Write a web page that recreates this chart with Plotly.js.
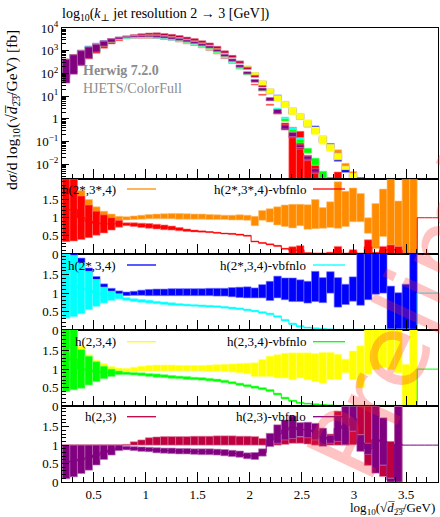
<!DOCTYPE html>
<html><head><meta charset="utf-8">
<script src="https://cdn.plot.ly/plotly-3.0.1.min.js"></script>
<style>html,body{margin:0;padding:0;background:#fff;}#chart{width:440px;height:517px;}</style>
</head><body><div id="chart"></div>
<script>
// ---------- binning of log10(sqrt(d23)/GeV) ----------
const binStart = 0.2;
const binWidth = 0.0725;
const nBins = 50;

// ---------- main panel nominal curves, log10(dsigma / fb) ----------
const refUpperLog = [2.30,2.50,2.74,2.98,3.17,3.35,3.48,3.57,3.63,3.67,
  3.69,3.70,3.70,3.67,3.63,3.58,3.51,3.44,3.35,3.25,
  3.10,2.91,2.72,2.48,2.25,1.97,1.58,1.20,0.89,0.62,
  0.33,0.09,-0.20,-0.51,-0.91,-1.28,-1.66,-2.19,-2.58,-2.9,
  -3.2,-3.5,-3.8,-4.1,-4.4,-4.7,-5.0];
const refH23Log = [2.62,2.82,3.0,3.16,3.28,3.42,3.52,3.59,3.64,3.67,
  3.69,3.70,3.70,3.67,3.63,3.58,3.51,3.44,3.35,3.25,
  3.10,2.90,2.70,2.45,2.18,1.83,1.40,0.82,0.22,-0.5,
  -0.85,-1.35,-1.85,-2.4,-2.85,-3.2,-3.5,-3.8,-4.1,-4.4,
  -4.7,-5.0,-5.3,-5.6,-5.9];

// ---------- ratio panel 1 ----------
const orangeLo = [0.5,0.55,0.6,0.66,0.72,0.8,0.86,0.93,0.94,0.95,
  0.96,0.97,0.97,0.97,0.97,0.96,0.96,0.96,0.96,0.95,
  0.95,0.95,0.94,0.94,0.93,0.78,0.93,0.88,0.8,0.76,
  0.72,0.78,0.68,0.7,0.71,0.73,0.71,0.76,0.89,0.89,
  0.57,0.15,0.48,0.25,0.21,0,0,null,null,null];
const orangeHi = [2.1,2.1,1.75,1.5,1.3,1.18,1.1,1.04,1.03,1.05,
  1.07,1.09,1.1,1.11,1.12,1.12,1.11,1.1,1.1,1.09,
  1.08,1.07,1.07,1.08,1.07,1.04,1.2,1.25,1.3,1.35,
  1.37,1.37,1.36,1.5,1.28,1.44,1.99,1.73,1.82,1.67,
  1.0,1.39,1.79,2.1,1.46,2.1,2.1,null,null,null];
const redLo = [0.34,0.36,0.40,0.45,0.52,0.58,0.66,0.74,0.78,0.76,
  0.73,0.71,0.69,0.67,0.66,0.64,0.62,0.61,0.60,0.59,
  0.57,0.55,0.54,0.52,0.49,0.33,0.29,0.25,0.21,0.13,
  0,0,0,0,0,0,0,0,0,0,
  0,0,0,0,0,0,0,1,1,1];
const redHi = [2.1,2.1,1.6,1.35,1.18,1.08,1.0,0.93,0.86,0.86,
  0.85,0.84,0.82,0.80,0.77,0.73,0.69,0.66,0.64,0.62,
  0.60,0.58,0.57,0.55,0.52,0.36,0.32,0.28,0.24,0.16,
  0.2,0.23,0.04,0.03,0.03,0.05,0.21,0.03,0.12,0.03,
  0.39,0.05,0.21,0.25,0.21,0.03,0.03,1,1,1];

// ---------- ratio panel 2 ----------
const blueLo = [0.5,0.55,0.6,0.66,0.72,0.8,0.86,0.92,0.93,0.94,
  0.94,0.93,0.93,0.93,0.93,0.93,0.93,0.93,0.93,0.93,
  0.92,0.92,0.9,0.88,0.87,0.87,0.87,0.8,0.87,0.82,
  0.77,0.77,0.73,0.77,0.74,1.0,0.62,0.69,0.78,0.67,
  0.82,0.97,1.0,0.03,0.03,0.03,0,null,null,null];
const blueHi = [2.1,2.1,1.95,1.68,1.45,1.25,1.13,1.06,1.03,1.05,
  1.08,1.1,1.11,1.11,1.12,1.12,1.12,1.12,1.12,1.13,
  1.13,1.13,1.15,1.16,1.17,1.14,1.23,1.32,1.46,1.41,
  1.41,1.36,1.32,1.59,1.42,1.58,1.42,1.24,1.44,2.1,
  2.1,2.1,2.1,1.19,1.01,1.24,2.1,null,null,null];
const cyanLo = [0.32,0.36,0.44,0.55,0.64,0.73,0.8,0.84,0.8,0.77,
  0.75,0.73,0.71,0.69,0.67,0.66,0.65,0.64,0.63,0.62,
  0.61,0.59,0.57,0.55,0.52,0.49,0.45,0.41,0.34,0.24,
  0.14,0.08,0.05,0.03,0.02,0.01,0,0,0,0,
  0,0,0,0,0,0,0,1,1,1];
const cyanHi = [2.1,2.02,1.82,1.59,1.37,1.16,1.05,0.98,0.88,0.85,
  0.83,0.81,0.78,0.76,0.74,0.72,0.7,0.69,0.68,0.67,
  0.66,0.64,0.62,0.6,0.57,0.54,0.5,0.46,0.39,0.29,
  0.19,0.12,0.08,0.06,0.04,0.03,0.02,0.02,0.02,0.02,
  0.02,0.02,0.02,0.02,0.02,0.02,0.02,1,1,1];

// ---------- ratio panel 3 ----------
const yellowLo = [0.5,0.55,0.6,0.66,0.72,0.8,0.86,0.92,0.93,0.94,
  0.95,0.95,0.95,0.95,0.95,0.95,0.95,0.95,0.95,0.94,
  0.94,0.93,0.92,0.9,0.87,0.8,0.8,0.8,0.76,0.76,
  0.71,0.76,0.71,0.66,0.62,0.72,0.72,0.9,0.72,0.49,
  0.86,0.99,1.04,0.99,0.9,0,0,null,null,null];
const yellowHi = [2.1,2.1,1.62,1.39,1.24,1.15,1.07,1.03,1.02,1.05,
  1.08,1.1,1.11,1.11,1.11,1.1,1.1,1.1,1.1,1.11,
  1.12,1.13,1.14,1.15,1.16,1.17,1.26,1.35,1.39,1.43,
  1.44,1.44,1.44,1.42,1.45,1.45,1.4,1.27,1.49,1.63,
  2.1,2.1,2.1,2.1,2.1,1.13,2.1,null,null,null];
const greenLo = [0.39,0.44,0.48,0.57,0.66,0.74,0.8,0.85,0.85,0.84,
  0.82,0.8,0.78,0.77,0.75,0.74,0.72,0.71,0.7,0.68,
  0.66,0.63,0.6,0.56,0.52,0.48,0.44,0.39,0.3,0.19,
  0.12,0.07,0.05,0.03,0.02,0.01,0,0,0,0,
  0,0,0,0,0,0,0,1,1,1];
const greenHi = [2.1,2.1,1.53,1.35,1.2,1.08,1.0,0.95,0.92,0.91,
  0.9,0.88,0.87,0.85,0.83,0.81,0.8,0.78,0.77,0.75,
  0.73,0.7,0.66,0.62,0.58,0.54,0.5,0.45,0.35,0.24,
  0.16,0.1,0.08,0.06,0.04,0.03,0.02,0.02,0.02,0.02,
  0.02,0.02,0.02,0.02,0.02,0.02,0.02,1,1,1];

// ---------- ratio panel 4 ----------
const h23Lo = [0.99,0.99,0.99,0.99,0.99,0.99,0.99,0.99,0.99,1.0,
  1.0,1.0,1.0,1.0,1.0,1.0,1.0,1.0,1.0,1.0,
  1.0,1.0,1.0,1.0,1.0,1.0,1.0,1.0,1.0,1.02,
  1.05,1.05,1.03,1.0,1.0,1.0,1.0,1.0,1.01,1.28,
  0.45,1.1,0.15,0.1,0,null,null,null,null,null];
const h23Hi = [1.01,1.01,1.01,1.01,1.01,1.01,1.01,1.01,1.02,1.09,
  1.14,1.2,1.22,1.23,1.23,1.23,1.23,1.24,1.24,1.24,
  1.25,1.25,1.25,1.24,1.24,1.23,1.18,1.12,1.23,1.24,
  1.25,1.22,1.24,1.24,1.37,1.3,1.92,1.6,1.38,2.05,
  2.05,1.9,0.46,1.1,2.05,null,null,null,null,null];
const purpleLo = [0.09,0.14,0.23,0.32,0.46,0.61,0.73,0.85,0.87,0.85,
  0.83,0.82,0.79,0.78,0.77,0.76,0.76,0.75,0.74,0.74,
  0.73,0.71,0.69,0.67,0.63,0.61,0.7,0.96,1.05,1.14,
  1.18,1.23,1.2,1.14,0.97,1.05,1.1,1.01,1.38,0.83,
  0.75,0.24,0.46,0,0,1,1,1,1,1];
const purpleHi = [1.0,1.0,1.0,1.0,1.0,1.0,1.0,1.0,0.97,0.96,
  0.95,0.94,0.93,0.92,0.92,0.91,0.91,0.9,0.9,0.9,
  0.89,0.88,0.86,0.84,0.79,0.8,0.9,1.32,1.55,1.68,
  1.79,1.61,1.62,1.59,1.46,1.27,1.8,2.05,2.05,1.28,
  1.05,2.05,1.74,0.1,2.05,1,1,1,1,1];

// ---------- labels ----------
const seriesNames = ['h(2*,3*,4)','h(2*,3*,4)-vbfnlo','h(2*,3,4)','h(2*,3,4)-vbfnlo',
                     'h(2,3,4)','h(2,3,4)-vbfnlo','h(2,3)','h(2,3)-vbfnlo'];
const yTickVals = [0.01,0.1,1,10,100,1000,10000];
const yTickText = ['10<sup>−2</sup>','10<sup>−1</sup>','1','10<sup>1</sup>','10<sup>2</sup>','10<sup>3</sup>','10<sup>4</sup>'];

// ---------- drawing ----------
const F = 'Liberation Serif, DejaVu Serif, serif';
const colors = ['#ff8c00','#ff0000','#0000ff','#00ffff','#ffff00','#00ff00','#bf0040','#800080'];
const los = [orangeLo,redLo,blueLo,cyanLo,yellowLo,greenLo,h23Lo,purpleLo];
const his = [orangeHi,redHi,blueHi,cyanHi,yellowHi,greenHi,h23Hi,purpleHi];
const refs = [refUpperLog,refUpperLog,refUpperLog,refUpperLog,refUpperLog,refUpperLog,refH23Log,refH23Log];

const edges = []; for (let k=0;k<=nBins;k++) edges.push(binStart+k*binWidth);
const centers = []; for (let k=0;k<nBins;k++) centers.push(binStart+(k+0.5)*binWidth);

function tint(hex,f){const n=parseInt(hex.slice(1),16);const r=n>>16,g=(n>>8)&255,b=n&255;
  const m=c=>Math.round(c+(255-c)*f);return `rgb(${m(r)},${m(g)},${m(b)})`;}

function bars(lo,hi,color,xa,ya,refLog){
  const x=[],y=[],base=[];
  for(let k=0;k<nBins;k++){
    if(lo[k]==null||hi[k]==null) continue;
    let l=lo[k],h=hi[k];
    if(refLog){ if(refLog[k]==null) continue; const s=Math.pow(10,refLog[k]); l=Math.max(l*s,1e-4); h=h*s; }
    if(h-l<=0) continue;
    x.push(centers[k]); base.push(l); y.push(h-l);
  }
  return {type:'bar',x,y,base,width:binWidth,xaxis:xa,yaxis:ya,hoverinfo:'skip',showlegend:false,
    marker:{color:color,line:{color:tint(color,0.45),width:0.6}}};
}
function stepLine(lo,hi,color,xa,ya){
  const x=[],y=[];let last=null;
  for(let k=0;k<nBins;k++){
    if(lo[k]==null||hi[k]==null) continue;
    x.push(edges[k]); y.push((lo[k]+hi[k])/2); last=k;
  }
  if(last!=null){x.push(edges[last+1]); y.push(y[y.length-1]);}
  return {type:'scatter',mode:'lines',x,y,xaxis:xa,yaxis:ya,line:{color:color,width:1,shape:'hv'},hoverinfo:'skip',showlegend:false,cliponaxis:true};
}

const traces=[];
for(let i=0;i<8;i++) traces.push(bars(los[i],his[i],colors[i],'x','y',refs[i]));
for(let p=0;p<4;p++){
  const xa='x'+(p+2), ya='y'+(p+2), a=2*p, b=2*p+1;
  traces.push(bars(los[a],his[a],colors[a],xa,ya,null));
  traces.push(bars(los[b],his[b],colors[b],xa,ya,null));
  traces.push(stepLine(los[b],his[b],colors[b],xa,ya));
}

const XR=[0.197,3.807];
function xAxis(anchor,labels){return {range:XR,anchor:anchor,domain:[0,1],ticks:'inside',ticklen:10,tickwidth:1,tickcolor:'#000',
  tick0:0,dtick:0.5,showticklabels:labels,showline:true,mirror:true,linecolor:'#000',linewidth:1,showgrid:false,zeroline:false,
  minor:{ticks:'inside',ticklen:5,tick0:0,dtick:0.1,tickcolor:'#000',showgrid:false},
  tickfont:{family:F,size:13,color:'#000'},matches:anchor==='y'?undefined:'x'};}
function rAxis(dom,anchor){return {domain:dom,anchor:anchor,range:[0,2.06],tickmode:'array',tickvals:[0,0.5,1,1.5],ticktext:['0','0.5','1','1.5'],
  ticks:'inside',ticklen:7,tickcolor:'#000',showline:true,mirror:true,linecolor:'#000',linewidth:1,showgrid:false,zeroline:false,
  minor:{ticks:'inside',ticklen:3.5,tick0:0,dtick:0.1,tickcolor:'#000',showgrid:false},
  tickfont:{family:F,size:13,color:'#000'}};}
const minorLog=[];for(let e=-3;e<4;e++)for(let m=2;m<10;m++)minorLog.push(m*Math.pow(10,e));

const doms=[[0.6667,1],[0.5022,0.6667],[0.3348,0.5022],[0.1674,0.3348],[0,0.1674]];
const layout={width:440,height:517,margin:{l:62,r:2,t:28,b:35},paper_bgcolor:'#fff',plot_bgcolor:'#fff',
  barmode:'overlay',bargap:0,showlegend:false,
  title:{text:'log<sub>10</sub>(<i>k</i><sub>⊥</sub> jet resolution 2 → 3 [GeV])',xref:'container',x:62/440,xanchor:'left',
    yref:'container',y:1-13/517,yanchor:'middle',font:{family:F,size:14,color:'#000'}},
  xaxis:xAxis('y',false),xaxis2:xAxis('y2',false),xaxis3:xAxis('y3',false),xaxis4:xAxis('y4',false),xaxis5:xAxis('y5',true),
  yaxis:{domain:doms[0],anchor:'x',type:'log',range:[-2.66,4],tickmode:'array',tickvals:yTickVals,ticktext:yTickText,
    ticks:'inside',ticklen:7,tickcolor:'#000',showline:true,mirror:true,linecolor:'#000',linewidth:1,showgrid:false,zeroline:false,
    minor:{ticks:'inside',ticklen:3.5,tickmode:'array',tickvals:minorLog,tickcolor:'#000',showgrid:false},
    tickfont:{family:F,size:13,color:'#000'}},
  yaxis2:rAxis(doms[1],'x2'),yaxis3:rAxis(doms[2],'x3'),yaxis4:rAxis(doms[3],'x4'),yaxis5:rAxis(doms[4],'x5'),
  annotations:[],shapes:[]};

const px2x=p=>(p-62)/376, py2y=p=>(482-p)/454;
const legY=[189,265,341.7,416.7];
for(let p=0;p<4;p++){
  layout.annotations.push({xref:'paper',yref:'paper',x:px2x(118),y:py2y(legY[p]),xanchor:'right',yanchor:'middle',showarrow:false,
    text:seriesNames[2*p],font:{family:F,size:13,color:'#000'}});
  layout.annotations.push({xref:'paper',yref:'paper',x:px2x(308),y:py2y(legY[p]),xanchor:'right',yanchor:'middle',showarrow:false,
    text:seriesNames[2*p+1],font:{family:F,size:13,color:'#000'}});
  layout.shapes.push({type:'line',xref:'paper',yref:'paper',x0:px2x(127),x1:px2x(156),y0:py2y(legY[p]),y1:py2y(legY[p]),line:{color:colors[2*p],width:1.3}});
  layout.shapes.push({type:'line',xref:'paper',yref:'paper',x0:px2x(313),x1:px2x(345),y0:py2y(legY[p]),y1:py2y(legY[p]),line:{color:colors[2*p+1],width:1.3}});
}
layout.annotations.push({xref:'paper',yref:'paper',x:px2x(81),y:py2y(71),xanchor:'left',yanchor:'middle',showarrow:false,
  text:'<b>Herwig 7.2.0</b>',font:{family:F,size:14,color:'#8c8c8c'}});
layout.annotations.push({xref:'paper',yref:'paper',x:px2x(81),y:py2y(88),xanchor:'left',yanchor:'middle',showarrow:false,
  text:'HJETS/ColorFull',font:{family:F,size:14,color:'#8c8c8c'}});
layout.annotations.push({xref:'paper',yref:'paper',x:px2x(12),y:1,xanchor:'center',yanchor:'top',textangle:-90,showarrow:false,
  text:'d<i>σ</i>/d log<sub>10</sub>(√<i>d\u0305</i><sub>2\u03053\u0305</sub>/GeV) [fb]',font:{family:F,size:15.5,color:'#000'}});
layout.annotations.push({xref:'paper',yref:'paper',x:px2x(437),y:py2y(508.5),xanchor:'right',yanchor:'middle',showarrow:false,
  text:'log<sub>10</sub>(√<i>d\u0305</i><sub>2\u03053\u0305</sub>/GeV)',font:{family:F,size:13,color:'#000'}});
layout.annotations.push({xref:'paper',yref:'paper',x:px2x(456),y:py2y(216),xanchor:'center',yanchor:'middle',textangle:-65,showarrow:false,
  text:'Preliminary',font:{family:'DejaVu Sans, sans-serif',size:100,color:'rgba(255,40,40,0.28)'}});

Plotly.newPlot('chart',traces,layout,{staticPlot:true,displayModeBar:false});
</script></body></html>
